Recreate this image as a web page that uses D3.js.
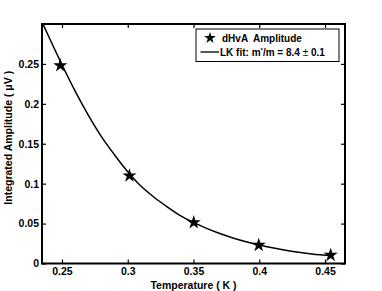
<!DOCTYPE html>
<html>
<head>
<meta charset="utf-8">
<script src="https://cdn.jsdelivr.net/npm/d3@7"></script>
<style>
  html, body { margin: 0; padding: 0; background: #fff; }
  svg { display: block; font-family: "Liberation Sans", Arial, Helvetica, sans-serif; }
  .tick text { font-weight: bold; font-size: 10.5px; fill: #000; }
</style>
</head>
<body>
<div id="chart"></div>
<script>
// ═══════════════════════════════════════════════════════════
// DATA
// ═══════════════════════════════════════════════════════════
const tempPoints  = [0.2487, 0.3013, 0.3502, 0.3996, 0.4543];
const ampPoints   = [0.248, 0.110, 0.0514, 0.023, 0.0105];

const fitTemps = [0.2355, 0.24, 0.25, 0.26, 0.27, 0.28, 0.29, 0.30, 0.31, 0.32, 0.33, 0.34,
                  0.35, 0.36, 0.37, 0.38, 0.39, 0.40, 0.41, 0.42, 0.43, 0.44, 0.455];
const fitAmps  = [0.300, 0.284, 0.249, 0.216, 0.186, 0.159, 0.136, 0.115, 0.097, 0.083, 0.071, 0.060,
                  0.0515, 0.044, 0.0375, 0.032, 0.0272, 0.0232, 0.0197, 0.0167, 0.0142, 0.0120, 0.0096];

const xTicks = [0.25, 0.3, 0.35, 0.4, 0.45];
const yTicks = [0, 0.05, 0.1, 0.15, 0.2, 0.25];

// ═══════════════════════════════════════════════════════════
// LAYOUT
// ═══════════════════════════════════════════════════════════
const width  = 382;
const height = 291;
const plot   = { left: 42, right: 345, top: 24, bottom: 263.5 };

const x = d3.scaleLinear().domain([0.2348, 0.4652]).range([plot.left, plot.right]);
const y = d3.scaleLinear().domain([0, 0.30]).range([plot.bottom, plot.top]);

const svg = d3.select('#chart').append('svg')
  .attr('width', width)
  .attr('height', height);

// ═══════════════════════════════════════════════════════════
// AXES (ticks inward on all four sides)
// ═══════════════════════════════════════════════════════════
const fmt = d => String(d);

svg.append('g')
  .attr('transform', `translate(0,${plot.bottom})`)
  .call(d3.axisBottom(x).tickValues(xTicks).tickFormat(fmt).tickSizeInner(-4).tickSizeOuter(0).tickPadding(4));

svg.append('g')
  .attr('transform', `translate(0,${plot.top})`)
  .call(d3.axisTop(x).tickValues(xTicks).tickFormat('').tickSizeInner(-4).tickSizeOuter(0));

svg.append('g')
  .attr('transform', `translate(${plot.left},0)`)
  .call(d3.axisLeft(y).tickValues(yTicks).tickFormat(fmt).tickSizeInner(-4).tickSizeOuter(0).tickPadding(3));

svg.append('g')
  .attr('transform', `translate(${plot.right},0)`)
  .call(d3.axisRight(y).tickValues(yTicks).tickFormat('').tickSizeInner(-4).tickSizeOuter(0));

svg.selectAll('.domain').remove();
svg.selectAll('.tick line').attr('stroke', '#000').attr('stroke-width', 1.2);

svg.append('rect')
  .attr('x', plot.left)
  .attr('y', plot.top)
  .attr('width', plot.right - plot.left)
  .attr('height', plot.bottom - plot.top)
  .attr('fill', 'none')
  .attr('stroke', '#000')
  .attr('stroke-width', 2);

// axis titles
svg.append('text')
  .attr('x', (plot.left + plot.right) / 2)
  .attr('y', 288.5)
  .attr('text-anchor', 'middle')
  .attr('font-size', '10.5px')
  .attr('font-weight', 'bold')
  .text('Temperature ( K )');

svg.append('text')
  .attr('transform', `translate(12,${(plot.top + plot.bottom) / 2 - 6}) rotate(-90)`)
  .attr('text-anchor', 'middle')
  .attr('font-size', '10.5px')
  .attr('font-weight', 'bold')
  .text('Integrated Amplitude ( μV )');

// ═══════════════════════════════════════════════════════════
// FIT CURVE + DATA POINTS
// ═══════════════════════════════════════════════════════════
const fitData = fitTemps.map((t, i) => ({ t, a: fitAmps[i] }));

svg.append('path')
  .datum(fitData)
  .attr('fill', 'none')
  .attr('stroke', '#000')
  .attr('stroke-width', 1.5)
  .attr('d', d3.line().x(d => x(d.t)).y(d => y(d.a)).curve(d3.curveMonotoneX));

const star = d3.symbol().type(d3.symbolStar).size(62);

svg.append('g')
  .selectAll('path')
  .data(tempPoints.map((t, i) => ({ t, a: ampPoints[i] })))
  .join('path')
  .attr('transform', d => `translate(${x(d.t)},${y(d.a)})`)
  .attr('d', star)
  .attr('fill', '#000');

// ═══════════════════════════════════════════════════════════
// LEGEND
// ═══════════════════════════════════════════════════════════
const legend = svg.append('g');

legend.append('rect')
  .attr('x', 196)
  .attr('y', 29)
  .attr('width', 143)
  .attr('height', 32.5)
  .attr('fill', '#fff')
  .attr('stroke', '#000')
  .attr('stroke-width', 1);

legend.append('path')
  .attr('transform', 'translate(210,38)')
  .attr('d', d3.symbol().type(d3.symbolStar).size(42))
  .attr('fill', '#000');

legend.append('text')
  .attr('x', 222)
  .attr('y', 41.5)
  .attr('font-size', '10px')
  .attr('font-weight', 'bold')
  .attr('xml:space', 'preserve')
  .text('dHvA  Amplitude');

legend.append('line')
  .attr('x1', 200.5).attr('x2', 219)
  .attr('y1', 52).attr('y2', 52)
  .attr('stroke', '#000')
  .attr('stroke-width', 1.3);

const fitLabel = legend.append('text')
  .attr('x', 220)
  .attr('y', 55.5)
  .attr('font-size', '10px')
  .attr('font-weight', 'bold');

fitLabel.append('tspan').text('LK fit: m');
fitLabel.append('tspan').attr('dy', -4).attr('font-size', '6px').text('*');
fitLabel.append('tspan').attr('dy', 4).text('/m = 8.4 ');
fitLabel.append('tspan').attr('font-weight', 'normal').text('±');
fitLabel.append('tspan').text(' 0.1');
</script>
</body>
</html>
